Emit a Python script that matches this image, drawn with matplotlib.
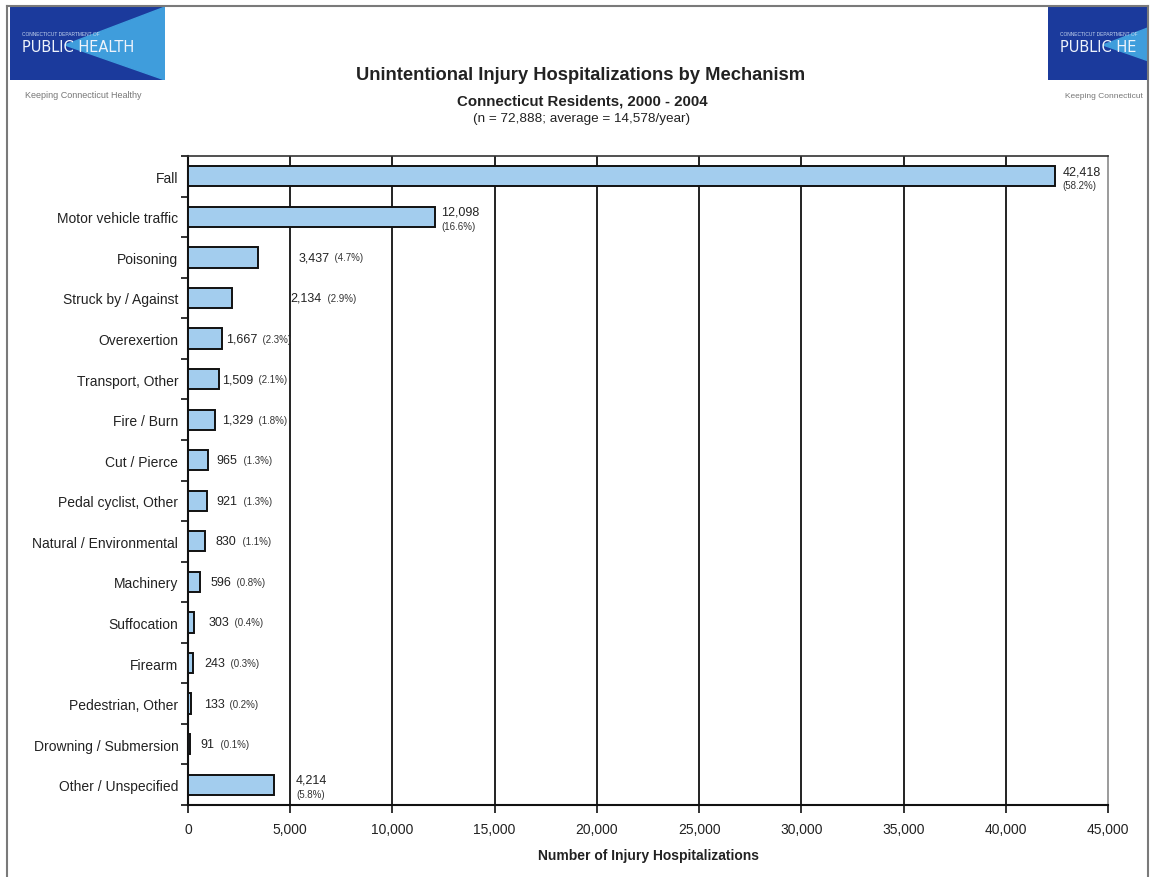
import matplotlib
matplotlib.use("Agg")
import matplotlib.pyplot as plt
from matplotlib.patches import Rectangle, Polygon
from matplotlib.ticker import FuncFormatter, FixedLocator

plt.rcParams['font.family'] = ['Liberation Sans', 'DejaVu Sans']

categories = ["Fall", "Motor vehicle traffic", "Poisoning", "Struck by / Against",
              "Overexertion", "Transport, Other", "Fire / Burn", "Cut / Pierce",
              "Pedal cyclist, Other", "Natural / Environmental", "Machinery",
              "Suffocation", "Firearm", "Pedestrian, Other", "Drowning / Submersion",
              "Other / Unspecified"]
counts = [42418, 12098, 3437, 2134, 1667, 1509, 1329, 965, 921, 830, 596, 303, 243, 133, 91, 4214]
percents = ["58.2%", "16.6%", "4.7%", "2.9%", "2.3%", "2.1%", "1.8%", "1.3%", "1.3%",
            "1.1%", "0.8%", "0.4%", "0.3%", "0.2%", "0.1%", "5.8%"]
two_line = [True, True, False, False, False, False, False, False, False, False,
            False, False, False, False, False, True]
x_ticks = [0, 5000, 10000, 15000, 20000, 25000, 30000, 35000, 40000, 45000]

title = "Unintentional Injury Hospitalizations by Mechanism"
subtitle = "Connecticut Residents, 2000 - 2004"
subtitle2 = "(n = 72,888; average = 14,578/year)"
xlabel = "Number of Injury Hospitalizations"

W, H = 1155, 878
fig = plt.figure(figsize=(W / 100, H / 100), dpi=100)

def fx(px):
    return px / W

def fy(py):
    return 1 - py / H

# page frame
fig.add_artist(plt.Line2D([fx(7), fx(7)], [fy(7), 0], color="#7a7a7a", lw=1.5))
fig.add_artist(plt.Line2D([fx(7), fx(1148)], [fy(7), fy(7)], color="#7a7a7a", lw=1.5))
fig.add_artist(plt.Line2D([fx(1148), fx(1148)], [fy(7), 0], color="#7a7a7a", lw=1.5))

def draw_logo(left_px, width_px, name):
    lax = fig.add_axes([fx(left_px), fy(81), fx(width_px), fy(8) - fy(81)])
    lax.set_xlim(0, width_px)
    lax.set_ylim(73, 0)
    lax.axis("off")
    lax.add_patch(Rectangle((0, 0), 155, 73, color="#1b3a9c", zorder=1))
    lax.add_patch(Polygon([(155, 0), (155, 73), (55, 38)], closed=True,
                          color="#3f9ddc", zorder=2))
    lax.text(12, 26, "CONNECTICUT DEPARTMENT OF", color="#c8d8f0", fontsize=3.5,
             va="center", ha="left", zorder=3)
    lax.text(12, 39, name, color="#eef3fb", fontsize=10.5, va="center",
             ha="left", zorder=3, family=["DejaVu Sans"])

draw_logo(10, 155, "PUBLIC HEALTH")
fig.text(fx(25), fy(96), "Keeping Connecticut Healthy", fontsize=6.5, color="#777777",
         va="center", ha="left")
draw_logo(1048, 99, "PUBLIC HE")
fig.text(fx(1065), fy(96), "Keeping Connecticut", fontsize=6, color="#777777",
         va="center", ha="left")

# titles
fig.text(fx(581), fy(75), title, fontsize=13.2, fontweight="bold", ha="center",
         va="center", color="#222222")
fig.text(fx(582), fy(101), subtitle, fontsize=10.8, fontweight="bold", ha="center",
         va="center", color="#222222")
fig.text(fx(582), fy(119), subtitle2, fontsize=9.7, ha="center", va="center",
         color="#222222")

ax = fig.add_axes([fx(188), fy(806), fx(1108) - fx(188), fy(157) - fy(806)])
ypos = list(range(len(categories)))
ax.barh(ypos, counts, height=0.5, color="#a3cdee", edgecolor="#111111",
        linewidth=1.4, zorder=3)
ax.set_xlim(0, 45000)
ax.set_ylim(len(categories) - 0.5, -0.5)

ax.set_xticks(x_ticks)
ax.xaxis.set_major_formatter(FuncFormatter(lambda v, p: f"{int(v):,}"))
ax.tick_params(axis="x", length=6, width=1.2, pad=6, labelsize=10, color="#111111",
               labelcolor="#222222")
ax.set_yticks(ypos)
ax.set_yticklabels(categories)
ax.tick_params(axis="y", which="major", length=0, pad=7, labelsize=10,
               labelcolor="#222222")
ax.yaxis.set_minor_locator(FixedLocator([i - 0.5 for i in range(len(categories) + 1)]))
ax.tick_params(axis="y", which="minor", length=5, width=1.2, color="#111111")

for v in x_ticks[1:-1]:
    ax.axvline(v, color="#111111", lw=1.3, zorder=1)

ax.spines["left"].set_color("#111111")
ax.spines["left"].set_linewidth(1.5)
ax.spines["bottom"].set_color("#111111")
ax.spines["bottom"].set_linewidth(1.5)
ax.spines["top"].set_color("#333333")
ax.spines["top"].set_linewidth(1.2)
ax.spines["right"].set_color("#8a8a8a")
ax.spines["right"].set_linewidth(1.2)

ax.set_xlabel(xlabel, fontsize=10, fontweight="bold", labelpad=9, color="#222222")

label_offsets = [7, 6, 40, 59, 4, 3, 7, 9, 10, 11, 10, 14, 11, 13, 11, 22]
for i, (c, p, tl, off) in enumerate(zip(counts, percents, two_line, label_offsets)):
    if tl:
        ax.annotate(f"{c:,}", (c, i), xytext=(off, 5), textcoords="offset pixels",
                    fontsize=9, ha="left", va="center", color="#222222")
        ax.annotate(f"({p})", (c, i), xytext=(off, -9), textcoords="offset pixels",
                    fontsize=7, ha="left", va="center", color="#333333")
    else:
        t = ax.annotate(f"{c:,}", (c, i), xytext=(off, 0), textcoords="offset pixels",
                        fontsize=9, ha="left", va="center", color="#222222")
        ax.annotate(f"  ({p})", xy=(1, 0.5), xycoords=t, xytext=(0, 0),
                    textcoords="offset pixels", fontsize=7, ha="left", va="center",
                    color="#333333")

fig.savefig("out.png", dpi=100)
